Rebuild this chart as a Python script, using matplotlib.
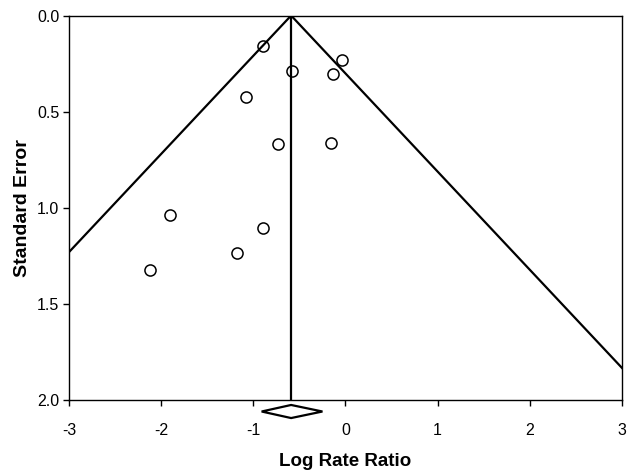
import numpy as np
import matplotlib
matplotlib.use("Agg")
import matplotlib.pyplot as plt

plt.rcParams['font.family'] = ['Liberation Sans', 'DejaVu Sans']

# study estimates
log_rr = [-0.89, -0.04, -0.58, -0.14, -1.08, -0.16, -0.73, -1.90, -0.89, -1.18, -2.12]
std_err = [0.157, 0.231, 0.287, 0.304, 0.422, 0.661, 0.668, 1.038, 1.102, 1.234, 1.324]

pooled = -0.59
ci_low, ci_high = -0.91, -0.25
se_max = 2.0

fig = plt.figure(figsize=(6.3, 4.71), dpi=100)
ax = fig.add_axes([0.1095, 0.150, 0.8778, 0.817])

# funnel (pseudo 95% limits) and pooled estimate line
se_line = np.array([0, se_max])
ax.plot(pooled - 1.96 * se_line, se_line, color='black', lw=1.6)
ax.plot(pooled + 1.96 * se_line, se_line, color='black', lw=1.6)
ax.plot([pooled, pooled], [0, se_max], color='black', lw=1.6)

ax.plot(log_rr, std_err, linestyle='none', marker='o', markersize=8,
        markerfacecolor='none', markeredgecolor='black', markeredgewidth=1.1)

# pooled estimate diamond under the axis
dy = 0.034
yd = 2.058
ax.fill([ci_low, pooled, ci_high, pooled, ci_low], [yd, yd - dy, yd, yd + dy, yd],
        facecolor='white', edgecolor='black', lw=1.6, clip_on=False, zorder=5)

ax.set_xlim(-3, 3)
ax.set_ylim(2.0, 0.0)
ax.set_xticks([-3, -2, -1, 0, 1, 2, 3])
ax.set_xticklabels(['-3', '-2', '-1', '0', '1', '2', '3'])
ax.set_yticks([0.0, 0.5, 1.0, 1.5, 2.0])
ax.set_yticklabels(['0.0', '0.5', '1.0', '1.5', '2.0'])
ax.tick_params(direction='out', length=4, width=1, labelsize=11.5, pad=12)
ax.tick_params(axis='y', pad=3)
for s in ax.spines.values():
    s.set_linewidth(1.0)

ax.set_xlabel('Log Rate Ratio', fontsize=13.5, fontweight='bold', labelpad=11)
ax.set_ylabel('Standard Error', fontsize=14, fontweight='bold', labelpad=4)

fig.savefig('out.png', dpi=100)
